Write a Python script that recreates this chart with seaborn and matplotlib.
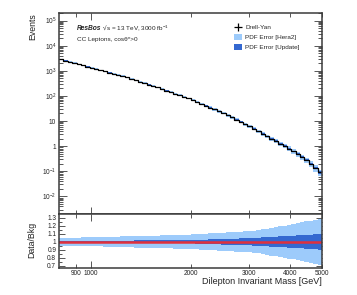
import numpy as np
import matplotlib
matplotlib.use("Agg")
import matplotlib.pyplot as plt
import matplotlib.ticker as mticker
from matplotlib.lines import Line2D
from matplotlib.patches import Patch
import seaborn as sns

# Drell-Yan yield per bin, 60 log-spaced bins between 800 and 5000 GeV
mass_min, mass_max, n_bins = 800, 5000, 60
drellyan = [2860, 2560, 2290, 2055, 1840, 1650, 1480, 1325, 1186, 1062,
            952, 853, 764, 684, 613, 545, 478, 419, 367, 322,
            282, 248, 217, 188, 163, 141, 122, 106, 91.8, 79.4,
            68.3, 57.5, 48.4, 40.8, 34.4, 29.0, 24.5, 20.6, 16.9, 13.9,
            11.3, 9.25, 7.57, 6.18, 5.05, 3.92, 3.13, 2.49, 1.99, 1.59,
            1.26, 1.01, 0.805, 0.622, 0.476, 0.364, 0.278, 0.200, 0.135, 0.090]

# relative PDF errors per bin
err_hera2 = [0.050, 0.051, 0.052, 0.052, 0.053, 0.054, 0.054, 0.055, 0.057, 0.058,
             0.060, 0.061, 0.063, 0.064, 0.066, 0.068, 0.069, 0.071, 0.072, 0.074,
             0.075, 0.077, 0.078, 0.080, 0.082, 0.083, 0.085, 0.086, 0.088, 0.089,
             0.092, 0.095, 0.098, 0.100, 0.104, 0.107, 0.110, 0.112, 0.116, 0.119,
             0.122, 0.125, 0.128, 0.132, 0.138, 0.145, 0.153, 0.162, 0.171, 0.181,
             0.190, 0.199, 0.208, 0.219, 0.230, 0.241, 0.252, 0.263, 0.274, 0.285]
err_update = [0.012, 0.012, 0.013, 0.013, 0.013, 0.013, 0.014, 0.014, 0.014, 0.014,
              0.015, 0.015, 0.015, 0.016, 0.016, 0.016, 0.016, 0.017, 0.017, 0.017,
              0.017, 0.018, 0.018, 0.018, 0.018, 0.019, 0.019, 0.019, 0.020, 0.020,
              0.021, 0.023, 0.025, 0.027, 0.029, 0.030, 0.032, 0.034, 0.036, 0.038,
              0.040, 0.042, 0.043, 0.045, 0.048, 0.051, 0.054, 0.057, 0.060, 0.063,
              0.066, 0.069, 0.072, 0.075, 0.079, 0.082, 0.086, 0.089, 0.093, 0.097]

x_major = [1000]
x_minor = [900, 2000, 3000, 4000, 5000]
y_main_ticks = [1e-2, 1e-1, 1, 10, 1e2, 1e3, 1e4, 1e5]
y_main_labels = ['$10^{-2}$', '$10^{-1}$', '1', '10', '$10^{2}$', '$10^{3}$', '$10^{4}$', '$10^{5}$']
y_ratio_ticks = [0.7, 0.8, 0.9, 1.0, 1.1, 1.2, 1.3]
y_ratio_labels = ['0.7', '0.8', '0.9', '1', '1.1', '1.2', '1.3']

sns.set_theme(style="ticks")
plt.rcParams['font.family'] = ['Liberation Sans', 'DejaVu Sans']
plt.rcParams['mathtext.fontset'] = 'custom'
plt.rcParams['mathtext.rm'] = 'Liberation Sans'
plt.rcParams['mathtext.it'] = 'Liberation Sans:italic'
plt.rcParams['mathtext.bf'] = 'Liberation Sans:bold'

LIGHT = '#9dcbfb'
DARK = '#3468d0'
RED = '#e0303c'
FRAME = '#3a3a3a'

edges = np.geomspace(mass_min, mass_max, n_bins + 1)
dy = np.array(drellyan)
h2 = np.array(err_hera2)
up = np.array(err_update)
ratio = dy / dy


def ext(a):
    return np.append(a, a[-1])


fig = plt.figure(figsize=(3.57, 2.95), dpi=100)
ax1 = fig.add_axes([0.1653, 0.2746, 0.7367, 0.6814])
ax2 = fig.add_axes([0.1653, 0.0915, 0.7367, 0.1831])

# main panel
ax1.set_xscale('log')
ax1.set_yscale('log')
ax1.fill_between(edges, ext(dy * (1 - h2)), ext(dy * (1 + h2)), step='post', color=LIGHT, lw=0)
ax1.fill_between(edges, ext(dy * (1 - up)), ext(dy * (1 + up)), step='post', color=DARK, lw=0)
sns.lineplot(x=edges, y=ext(dy), drawstyle='steps-post', color='black', lw=0.9,
             estimator=None, legend=False, ax=ax1)
ax1.set_xlim(mass_min, mass_max)
ax1.set_ylim(2e-3, 2e5)
ax1.set_xlabel('')
ax1.set_ylabel('')

# ratio panel
ax2.set_xscale('log')
ax2.fill_between(edges, ext(ratio - h2), ext(ratio + h2), step='post', color=LIGHT, lw=0)
ax2.fill_between(edges, ext(ratio - up), ext(ratio + up), step='post', color=DARK, lw=0)
sns.lineplot(x=edges, y=ext(ratio), drawstyle='steps-post', color=RED, lw=1.8,
             estimator=None, legend=False, ax=ax2)
ax2.set_xlim(mass_min, mass_max)
ax2.set_ylim(0.675, 1.345)
ax2.set_xlabel('')
ax2.set_ylabel('')

for ax in (ax1, ax2):
    ax.xaxis.set_major_locator(mticker.FixedLocator(x_major))
    ax.xaxis.set_minor_locator(mticker.FixedLocator(x_minor))
    for s in ax.spines.values():
        s.set_color(FRAME)
        s.set_linewidth(1.1)
    ax.tick_params(which='both', direction='in', top=True, right=True,
                   width=0.6, colors=FRAME, labelcolor='#222222', labelsize=4.7, pad=2)

ax1.xaxis.set_major_formatter(mticker.NullFormatter())
ax1.xaxis.set_minor_formatter(mticker.NullFormatter())
ax1.tick_params(axis='x', which='major', length=5)
ax1.tick_params(axis='x', which='minor', length=3)
ax1.yaxis.set_major_locator(mticker.FixedLocator(y_main_ticks))
ax1.yaxis.set_major_formatter(mticker.FixedFormatter(y_main_labels))
ax1.yaxis.set_minor_locator(mticker.LogLocator(base=10, subs=np.arange(2, 10), numticks=20))
ax1.yaxis.set_minor_formatter(mticker.NullFormatter())
ax1.tick_params(axis='y', which='major', length=6)
ax1.tick_params(axis='y', which='minor', length=3)

ax2.xaxis.set_major_formatter(mticker.FixedFormatter(['1000']))
ax2.xaxis.set_minor_formatter(mticker.FixedFormatter(['900', '2000', '3000', '4000', '5000']))
ax2.tick_params(axis='x', which='major', length=5, pad=1.5)
ax2.tick_params(axis='x', which='minor', length=3, pad=1.5)
ax2.yaxis.set_major_locator(mticker.FixedLocator(y_ratio_ticks))
ax2.yaxis.set_major_formatter(mticker.FixedFormatter(y_ratio_labels))
ax2.yaxis.set_minor_locator(mticker.MultipleLocator(0.05))
ax2.tick_params(axis='y', which='major', length=4.5)
ax2.tick_params(axis='y', which='minor', length=2.5)

# labels
fig.text(0.093, 0.956, 'Events', rotation=90, ha='center', va='top', fontsize=6.3, color='#222222')
fig.text(0.09, 0.186, 'Data/Bkg', rotation=90, ha='center', va='center', fontsize=6.3, color='#222222')
fig.text(0.902, 0.047, 'Dilepton Invariant Mass [GeV]', ha='right', va='center', fontsize=6.5, color='#222222')

t1 = ax1.text(0.068, 0.925, 'ResBos', transform=ax1.transAxes, fontsize=4.8,
              fontweight='bold', fontstyle='italic', va='center', ha='left')
ax1.annotate(' \u221as = 13 TeV, 3000 fb$^{-1}$', xy=(1, 0.5), xycoords=t1,
             fontsize=4.6, va='center', ha='left')
ax1.text(0.068, 0.866, 'CC Leptons, cos\u03b8*>0', transform=ax1.transAxes,
         fontsize=4.6, va='center', ha='left')

handles = [Line2D([], [], color='black', marker='+', markersize=6, mew=0.9, linestyle='none'),
           Patch(facecolor=LIGHT, edgecolor='none'),
           Patch(facecolor=DARK, edgecolor='none')]
labels = ['Drell-Yan', 'PDF Error [Hera2]', 'PDF Error [Update]']
ax1.legend(handles, labels, loc='upper left', bbox_to_anchor=(0.665, 0.945),
           frameon=False, fontsize=4.6, handlelength=1.3, handleheight=1.1,
           handletextpad=0.5, labelspacing=0.55, borderaxespad=0, borderpad=0)

fig.savefig('out.png', dpi=100)
